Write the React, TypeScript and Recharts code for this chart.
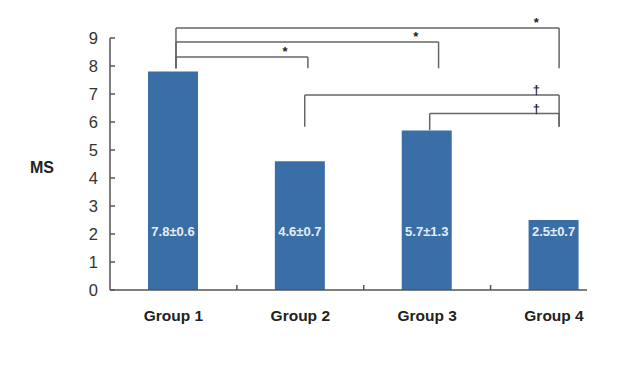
import { BarChart, Bar, XAxis, YAxis, ReferenceLine, ReferenceDot, LabelList } from 'recharts'

const groups = ['Group 1', 'Group 2', 'Group 3', 'Group 4']
const means = [7.8, 4.6, 5.7, 2.5]
const sds = [0.6, 0.7, 1.3, 0.7]
const yTicks = [0, 1, 2, 3, 4, 5, 6, 7, 8, 9]

// significance brackets, in group units (group i is centred at i + 0.5)
const legFromX = [0.52, 0.52, 0.52, 1.535, 2.52]
const legToX = [3.54, 2.59, 1.56, 3.54, 3.54]
const levels = [9.36, 8.86, 8.32, 6.96, 6.3]
const legFrom = [7.92, 7.92, 7.92, 5.83, 5.71]
const legTo = [7.92, 7.92, 7.92, 5.83, 5.83]
const marks = ['*', '*', '*', '†', '†']

const LABEL_LEVEL = 2.1
const BAR_COLOR = '#3a6ea6'
const LINE_COLOR = '#666'
const AXIS_COLOR = '#555'
const FONT = 'Arial, "Liberation Sans", sans-serif'

const data = groups.map((g, i) => ({
  x: i + 0.5,
  name: g,
  mean: means[i],
  label: `${means[i].toFixed(1)}±${sds[i].toFixed(1)}`,
}))

// tick positions: group centres get labels, group boundaries get small marks
const xTicks = groups.flatMap((_, i) => (i === 0 ? [0.5] : [i, i + 0.5]))

const MARK_SHIFT = 0.18

function XTick(props: any) {
  const { x, y, payload } = props
  const v = payload.value
  if (Number.isInteger(v)) {
    return <line x1={x} x2={x} y1={y} y2={y - 5} stroke={AXIS_COLOR} strokeWidth={1.5} />
  }
  const name = groups[Math.floor(v)]
  return (
    <text x={x} y={y + 31} textAnchor="middle" fontFamily={FONT} fontWeight="bold" fontSize={15.5} fill="#222">
      {name}
    </text>
  )
}

function YTick(props: any) {
  const { x, y, payload } = props
  const axisX = x + 12
  return (
    <g>
      <text x={x} y={y + 6} textAnchor="end" fontFamily={FONT} fontSize={16.5} fill="#333">
        {payload.value}
      </text>
      <line x1={axisX} x2={axisX + 5} y1={y} y2={y} stroke={AXIS_COLOR} strokeWidth={1.5} />
    </g>
  )
}

function BarLabel(props: any) {
  const { x, y, width, height, value, index } = props
  const bottom = y + height
  const ly = bottom - height * (LABEL_LEVEL / means[index])
  return (
    <text x={x + width / 2} y={ly + 5} textAnchor="middle" fontFamily={FONT} fontWeight="bold" fontSize={13} fill="#e6edf5">
      {value}
    </text>
  )
}

function Mark(props: any) {
  const { cx, cy, text } = props
  return (
    <text x={cx} y={cy - 1} textAnchor="middle" fontFamily={FONT} fontSize={13} fontWeight="bold" fill="#222">
      {text}
    </text>
  )
}

export default function App() {
  return (
    <div style={{ position: 'absolute', left: 0, top: 0, width: 618, height: 372, background: '#fff' }}>
      <BarChart width={618} height={372} data={data} margin={{ top: 38, right: 31, bottom: 52, left: 0 }}>
        <XAxis
          dataKey="x"
          type="number"
          domain={[0, 3.76]}
          ticks={xTicks}
          interval={0}
          tickSize={0}
          tickMargin={0}
          tick={<XTick />}
          height={30}
          axisLine={{ stroke: AXIS_COLOR, strokeWidth: 1.5 }}
        />
        <YAxis
          type="number"
          domain={[0, 9]}
          ticks={yTicks}
          interval={0}
          width={110}
          tickSize={0}
          tickMargin={12}
          tick={<YTick />}
          axisLine={{ stroke: AXIS_COLOR, strokeWidth: 1.5 }}
          label={{ value: 'MS', position: 'insideLeft', offset: 30, dy: 3, style: { fontFamily: FONT, fontWeight: 'bold', fontSize: 16, fill: '#222' } }}
        />
        <Bar dataKey="mean" fill={BAR_COLOR} barSize={50} isAnimationActive={false}>
          <LabelList dataKey="label" content={<BarLabel />} />
        </Bar>
        {levels.map((lv, i) => {
          const x1 = legFromX[i]
          const x2 = legToX[i]
          const seg = { stroke: LINE_COLOR, strokeWidth: 1.5, ifOverflow: 'visible' as const }
          return [
            <ReferenceLine key={`l${i}`} {...seg} segment={[{ x: x1, y: legFrom[i] }, { x: x1, y: lv }]} />,
            <ReferenceLine key={`t${i}`} {...seg} segment={[{ x: x1, y: lv }, { x: x2, y: lv }]} />,
            <ReferenceLine key={`r${i}`} {...seg} segment={[{ x: x2, y: lv }, { x: x2, y: legTo[i] }]} />,
            <ReferenceDot
              key={`m${i}`}
              x={x2 - MARK_SHIFT}
              y={lv}
              ifOverflow="visible"
              shape={(p: any) => <Mark {...p} text={marks[i]} />}
            />,
          ]
        })}
      </BarChart>
    </div>
  )
}
